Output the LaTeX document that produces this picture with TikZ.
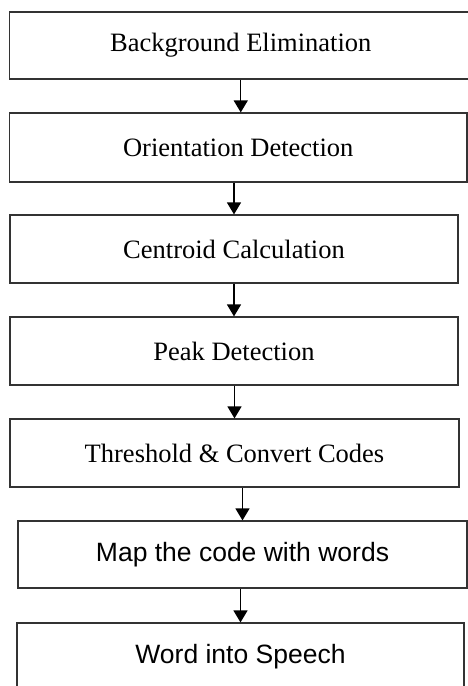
\documentclass[tikz,border=0pt]{standalone}
\usepackage{fontspec}
\setmainfont{Liberation Serif}
\newfontfamily\arialfont{Liberation Sans}
\usetikzlibrary{arrows.meta}

\begin{document}
\begin{tikzpicture}[x=1pt,y=-1pt,
  stagebox/.style={draw=black!80, line width=1.2pt, rectangle, inner sep=0pt,
    minimum height=68pt, font=\fontsize{26.5}{30}\selectfont},
  flowarrow/.style={-{Triangle[width=14pt,length=12pt]}, line width=1.4pt},
]
  \useasboundingbox (0,0) rectangle (468,686);
  \clip (0,0) rectangle (468,686);

  % stages (serif)
  \node[stagebox, minimum width=462.5pt, minimum height=67pt] (bg) at (240.75,45.5) {Background Elimination};
  \node[stagebox, minimum width=457.5pt, minimum height=69pt] (orient) at (238.25,147.5) {Orientation Detection};
  \node[stagebox, minimum width=448pt] (centroid) at (234,249) {Centroid Calculation};
  \node[stagebox, minimum width=448pt] (peak) at (234,351) {Peak Detection};
  \node[stagebox, minimum width=449pt] (thresh) at (234.5,453) {Threshold \& Convert Codes};

  %% stages (sans)
  \node[stagebox, minimum width=449pt, minimum height=67pt, font=\arialfont\fontsize{26.5}{30}\selectfont] (map) at (242.5,554.5) {Map the code with words};
  \node[stagebox, minimum width=447pt, font=\arialfont\fontsize{26.5}{30}\selectfont] (speech) at (240.5,657) {Word into Speech};

  % arrows
  \draw[flowarrow] (bg.south) -- (bg.south |- orient.north);
  \foreach \a/\b in {orient/centroid, centroid/peak, peak/thresh, thresh/map, map/speech}
    \draw[flowarrow] (\a.south -| \b.north) -- (\b.north);
\end{tikzpicture}
\end{document}
